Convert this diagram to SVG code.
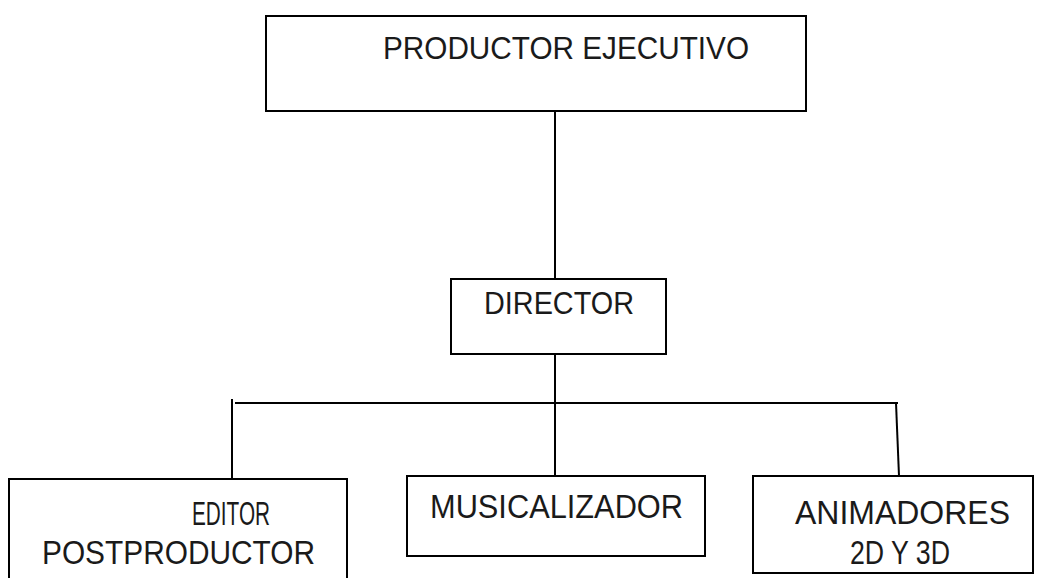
<svg xmlns="http://www.w3.org/2000/svg" width="1040" height="578" viewBox="0 0 1040 578">
<style>
.box{fill:#fff;stroke:#000;stroke-width:2}
.ln{stroke:#000;stroke-width:2;fill:none}
.t{font-family:"Liberation Sans",Arial,sans-serif;font-size:31px;fill:#1a1a1a}
.b{font-size:34px}
</style>
<rect width="1040" height="578" fill="#fff"/>
<g id="connectors">
<line class="ln" x1="555" y1="111" x2="555" y2="279"/>
<line class="ln" x1="555" y1="354" x2="555" y2="476"/>
<line class="ln" x1="235" y1="403" x2="898" y2="403"/>
<line class="ln" x1="232" y1="399" x2="232" y2="479"/>
<line class="ln" x1="896" y1="403" x2="899" y2="476"/>
</g>
<g id="productor">
<rect class="box" x="266" y="16" width="540" height="95"/>
<text class="t" x="383" y="59" textLength="366" lengthAdjust="spacingAndGlyphs">PRODUCTOR EJECUTIVO</text>
</g>
<g id="director">
<rect class="box" x="451" y="279" width="215" height="75"/>
<text class="t" x="484" y="314" textLength="150" lengthAdjust="spacingAndGlyphs">DIRECTOR</text>
</g>
<g id="editor">
<rect class="box" x="9" y="479" width="338" height="110"/>
<text class="t b" x="192" y="525" textLength="78" lengthAdjust="spacingAndGlyphs">EDITOR</text>
<text class="t b" x="42" y="564" textLength="273" lengthAdjust="spacingAndGlyphs">POSTPRODUCTOR</text>
</g>
<g id="musicalizador">
<rect class="box" x="407" y="476" width="298" height="80"/>
<text class="t b" x="430" y="518" textLength="253" lengthAdjust="spacingAndGlyphs">MUSICALIZADOR</text>
</g>
<g id="animadores">
<rect class="box" x="753" y="476" width="280" height="97"/>
<text class="t b" x="795" y="524" textLength="215" lengthAdjust="spacingAndGlyphs">ANIMADORES</text>
<text class="t b" x="850" y="564" textLength="100" lengthAdjust="spacingAndGlyphs">2D Y 3D</text>
</g>
</svg>
